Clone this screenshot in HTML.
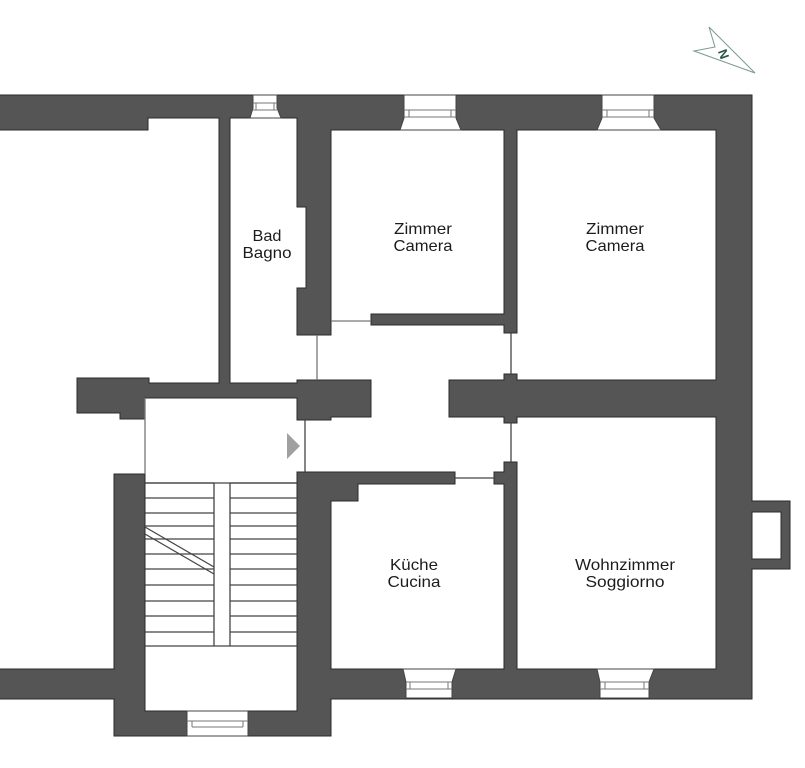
<!DOCTYPE html>
<html><head><meta charset="utf-8"><style>html,body{margin:0;padding:0;background:#fff}svg{display:block}text{font-family:"Liberation Sans",sans-serif;font-size:16px;fill:#1c1c1c;text-anchor:middle}</style></head><body>
<svg width="805" height="768" viewBox="0 0 805 768" xmlns="http://www.w3.org/2000/svg">
<path fill="#555" stroke="#2a2a2a" stroke-width="1" d="M-2 95H752V501H790V569H752V699H331V736H114V699H-2V669H114V474H145V711H297V472H455V484H358V501H331V669H504V484H494V472H504V462H517V669H716V417H517V423H504V417H449V380H504V374H517V380H716V130H517V333H504V325H371V314H504V130H331V335H297V288H306V207H297V118H230V383H297V380H371V417H331V420H297V398H145V419H120V413H77V378H149V383H219V118H148V130H-2Z"/>
<rect x="752" y="512" width="29" height="47" fill="#fff" stroke="#2a2a2a"/>
<g fill="#fff" stroke="#444" stroke-width="1">
<path d="M253 95H277V108L281 118H250L253 108Z"/>
<path d="M404 95H456V118L461 130H400L404 118Z"/>
<path d="M602 95H654V118L661 130H597L602 118Z"/>
<path d="M403 669H456L452 682V698H406V682Z"/>
<path d="M597 669H654L649 682V698H600V682Z"/>
<rect x="187" y="711" width="61" height="25"/>
</g>
<g fill="none" stroke="#777" stroke-width="1">
<path d="M253 103H277M253 110H277M256 103V110M274 103V110"/>
<path d="M404 110H456M404 117H456M409 110V117M451 110V117"/>
<path d="M602 110H654M602 117H654M607 110V117M649 110V117"/>
<path d="M406 682H452M406 689H452M410 682V689M448 682V689"/>
<path d="M600 682H649M600 689H649M605 682V689M644 682V689"/>
<path d="M187 721H248M192 727H243M192 721V727M243 721V727"/>
<path d="M331 321H371M317 335V380M145 398V474" stroke-width="1.3"/>
</g>
<g fill="none" stroke="#444" stroke-width="1.3">
<path d="M511 333V374M511 423V462M455 478H494M305 420V472"/>
<path d="M145 483H214M145 498H214M145 513H214M145 526H214M145 539H214M145 554H214M145 569H214M145 585H214M145 601H214M145 616H214M145 632H214M145 646H297"/>
<path d="M230 483H297M230 498H297M230 513H297M230 526H297M230 539H297M230 554H297M230 569H297M230 585H297M230 601H297M230 616H297M230 632H297"/>
<path d="M145 483H297M214 483V646M230 483V646"/>
<path d="M145 527L214 567M145 534L214 574"/>
</g>
<polygon points="287,433 300,446 287,459" fill="#a0a0a0"/>
<polygon points="709,27 755,73 694,51 715,47" fill="#fff" stroke="#7d9a8e" stroke-width="1"/>
<text x="724" y="59" transform="rotate(70 724 54)" style="font-size:13px;font-weight:700;fill:#2a5a4a">N</text>
<text x="267" y="241" textLength="29" lengthAdjust="spacingAndGlyphs">Bad</text>
<text x="267" y="258" textLength="49" lengthAdjust="spacingAndGlyphs">Bagno</text>
<text x="423" y="234" textLength="58" lengthAdjust="spacingAndGlyphs">Zimmer</text>
<text x="423" y="251" textLength="59" lengthAdjust="spacingAndGlyphs">Camera</text>
<text x="615" y="234" textLength="58" lengthAdjust="spacingAndGlyphs">Zimmer</text>
<text x="615" y="251" textLength="59" lengthAdjust="spacingAndGlyphs">Camera</text>
<text x="414" y="570" textLength="48" lengthAdjust="spacingAndGlyphs">Küche</text>
<text x="414" y="587" textLength="53" lengthAdjust="spacingAndGlyphs">Cucina</text>
<text x="625" y="570" textLength="100" lengthAdjust="spacingAndGlyphs">Wohnzimmer</text>
<text x="625" y="587" textLength="79" lengthAdjust="spacingAndGlyphs">Soggiorno</text>
</svg>
</body></html>
